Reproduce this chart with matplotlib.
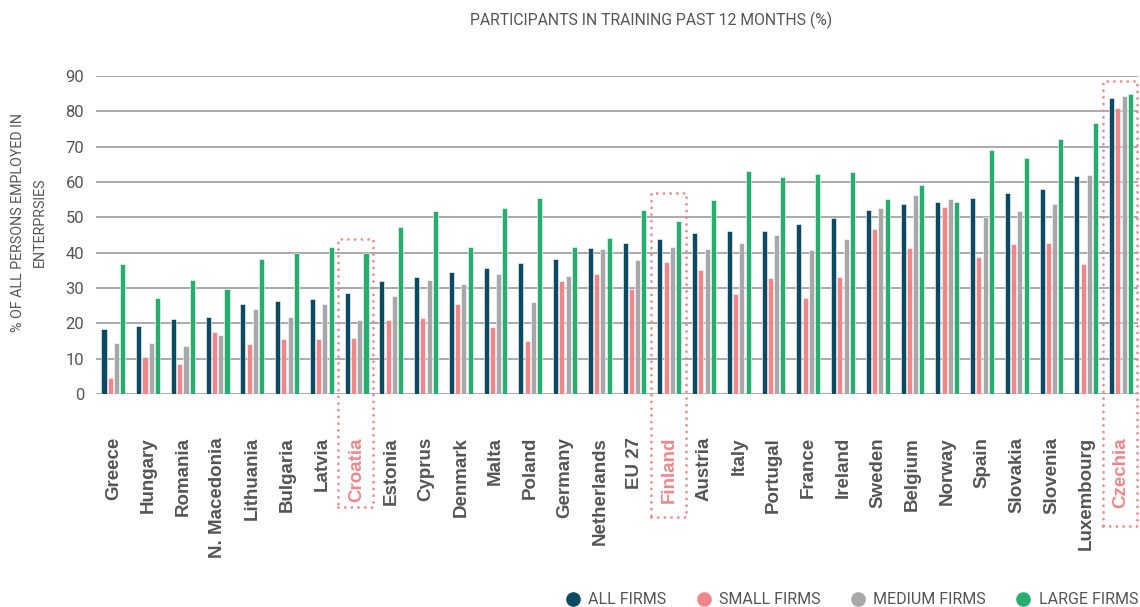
import matplotlib
matplotlib.use("Agg")
import matplotlib.pyplot as plt
import numpy as np
from matplotlib.patches import Rectangle
from matplotlib.lines import Line2D

countries = ["Greece", "Hungary", "Romania", "N. Macedonia", "Lithuania", "Bulgaria", "Latvia",
             "Croatia", "Estonia", "Cyprus", "Denmark", "Malta", "Poland", "Germany", "Netherlands",
             "EU 27", "Finland", "Austria", "Italy", "Portugal", "France", "Ireland", "Sweden",
             "Belgium", "Norway", "Spain", "Slovakia", "Slovenia", "Luxembourg", "Czechia"]

all_firms = [18.3, 19.3, 21.3, 21.8, 25.6, 26.4, 26.9, 28.6, 31.9, 33.2, 34.5, 35.7, 37.0, 38.1, 41.3,
             42.6, 43.8, 45.5, 46.0, 46.2, 48.1, 49.7, 52.2, 53.8, 54.3, 55.5, 56.8, 58.1, 61.7, 83.7]
small_firms = [4.4, 10.5, 8.6, 17.5, 14.2, 15.6, 15.6, 15.8, 20.9, 21.5, 25.4, 18.9, 15.0, 31.9, 34.1,
               29.7, 37.5, 35.1, 28.3, 32.9, 27.2, 33.1, 46.7, 41.3, 53.0, 38.9, 42.5, 42.7, 36.8, 81.0]
medium_firms = [14.4, 14.4, 13.7, 16.6, 24.0, 21.8, 25.6, 20.9, 27.7, 32.2, 31.0, 34.0, 25.9, 33.4, 41.0,
                37.8, 41.6, 41.0, 42.7, 44.9, 40.8, 43.8, 52.7, 56.2, 55.2, 50.0, 51.9, 53.8, 62.0, 84.3]
large_firms = [36.8, 27.3, 32.4, 29.6, 38.1, 40.0, 41.6, 40.0, 47.3, 51.9, 41.6, 52.7, 55.5, 41.6, 44.1,
               52.2, 49.0, 54.9, 63.0, 61.4, 62.3, 62.7, 55.2, 59.2, 54.3, 69.1, 66.8, 72.1, 76.6, 85.0]

series_names = ["ALL FIRMS", "SMALL FIRMS", "MEDIUM FIRMS", "LARGE FIRMS"]
series_values = [all_firms, small_firms, medium_firms, large_firms]
colors = ["#0b4a62", "#f0868a", "#a8a8ab", "#27ae6e"]

highlighted = ["Croatia", "Finland", "Czechia"]
box_tops = [44.0, 57.0, 88.5]
box_bottoms = [-32.0, -34.8, -37.4]

title = "PARTICIPANTS IN TRAINING PAST 12 MONTHS (%)"
ylabel = "% OF ALL PERSONS EMPLOYED IN\nENTERPRSIES"

TEXT = "#555555"
PINK = "#f0868a"
GRID = "#a9a9ad"

fig = plt.figure(figsize=(11.4, 6.07), dpi=100)
ax = fig.add_axes([96 / 1140, 213 / 607, (1138.4 - 96) / 1140, (394 - 76) / 607])

x = np.arange(len(countries))
w = 0.145
step = 0.18
for k, (vals, col, name) in enumerate(zip(series_values, colors, series_names)):
    ax.bar(x + (k - 1.5) * step, vals, width=w, color=col, edgecolor="white",
           linewidth=0.4, zorder=3, label=name)

ax.set_xlim(-0.5, len(countries) - 0.5)
ax.set_ylim(0, 90)
ax.set_yticks(range(0, 91, 10))
ax.yaxis.grid(True, color=GRID, linewidth=1.4, zorder=0)
ax.set_axisbelow(True)
for s in ax.spines.values():
    s.set_visible(False)
ax.tick_params(axis="both", length=0)
ax.tick_params(axis="y", pad=8.5, labelsize=12, labelcolor=TEXT)
for lab in ax.get_yticklabels():
    lab.set_fontfamily("Roboto")

ax.set_xticks(x)
ax.set_xticklabels(countries, rotation=90, fontsize=13.5, fontweight="bold",
                   fontfamily="Liberation Sans", color=TEXT, ha="center", va="top")
ax.tick_params(axis="x", pad=31)
for lab in ax.get_xticklabels():
    if lab.get_text() in highlighted:
        lab.set_color(PINK)

# dotted highlight boxes
for name, top, bot in zip(highlighted, box_tops, box_bottoms):
    i = countries.index(name)
    rect = Rectangle((i - 0.53, bot), 1.0, top - bot, fill=False, edgecolor=PINK,
                     linewidth=2.0, linestyle=(0, (0.01, 2.4)), capstyle="round",
                     joinstyle="round", clip_on=False, zorder=4)
    ax.add_patch(rect)

fig.text(651 / 1140, 1 - 20 / 607, title, ha="center", va="center", fontsize=11.3,
         color=TEXT, fontfamily="Roboto")
fig.text(29 / 1140, 1 - 222 / 607, ylabel, ha="center", va="center", rotation=90,
         fontsize=10.3, color=TEXT, fontfamily="Roboto", linespacing=1.75)

handles = [Line2D([], [], marker="o", linestyle="none", markersize=9.5, markerfacecolor=c,
                  markeredgecolor=c) for c in colors]
leg = fig.legend(handles, series_names, loc="center right", bbox_to_anchor=(1138 / 1140, 7 / 607),
                 ncol=4, frameon=False, handletextpad=0.35, columnspacing=1.75,
                 borderaxespad=0, handlelength=1.2, borderpad=0,
                 prop={"family": "Roboto", "size": 11.5})
for t in leg.get_texts():
    t.set_color(TEXT)

fig.savefig("out.png", dpi=100)
